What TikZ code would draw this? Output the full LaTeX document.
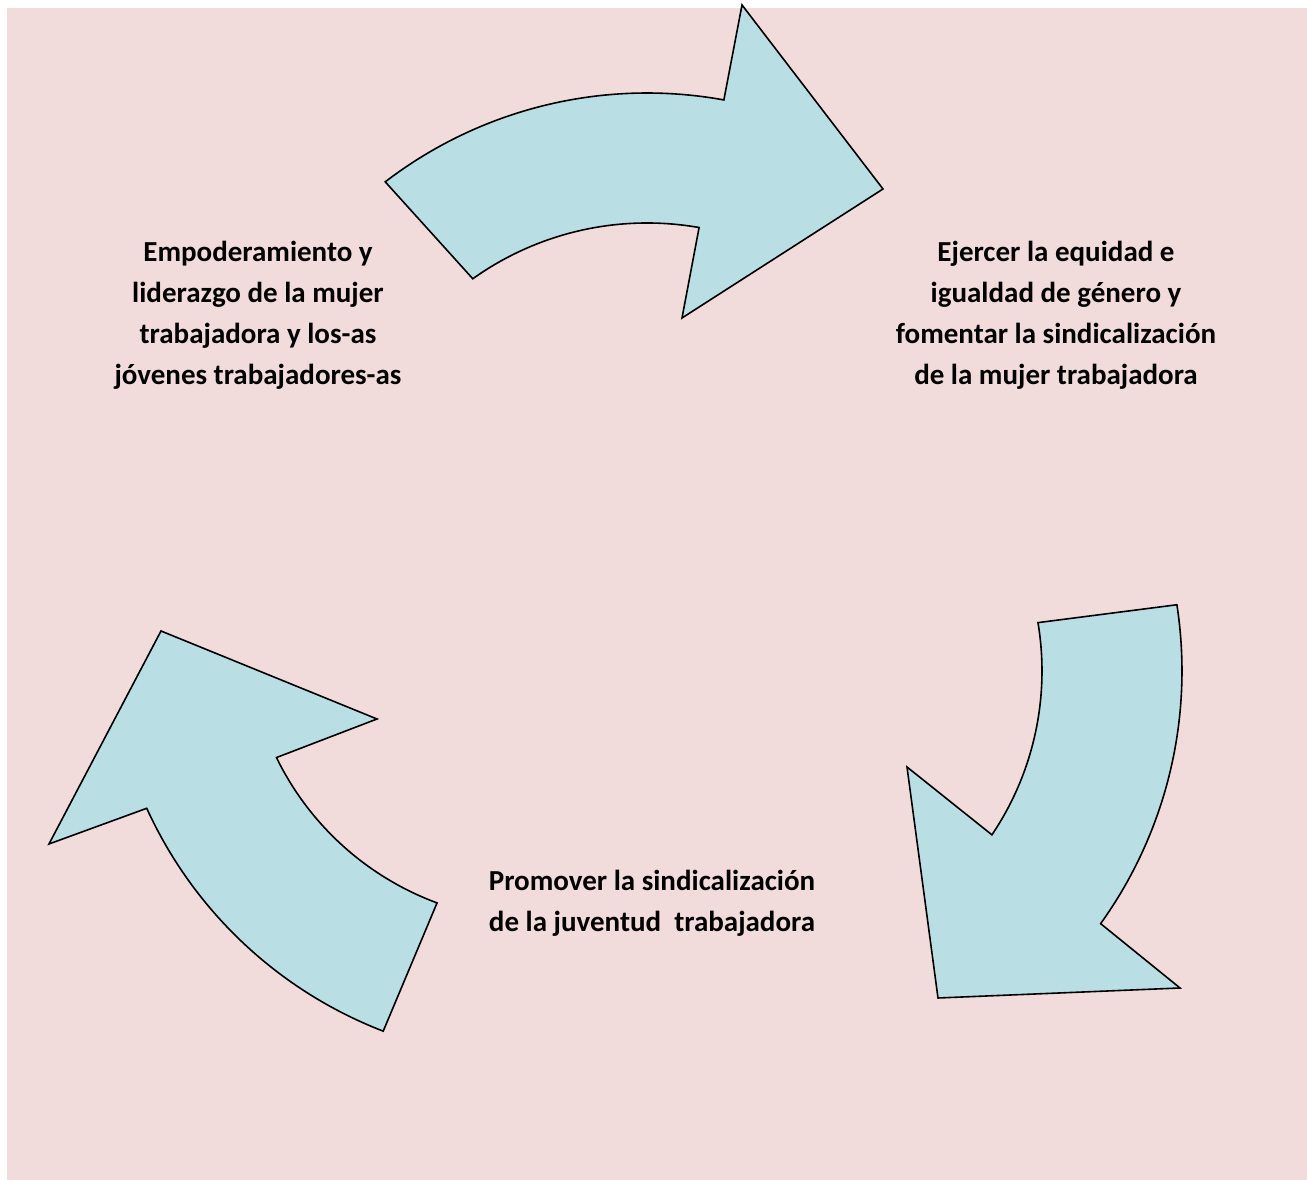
\documentclass[tikz,border=0pt]{standalone}
\usepackage{fontspec}
\setmainfont{Carlito}
\usetikzlibrary{calc}
\definecolor{bgpink}{HTML}{F2DCDB}
\definecolor{arrowfill}{HTML}{B9DFE4}
\begin{document}
\begin{tikzpicture}[x=1pt,y=1pt,
  bigarrow/.style={draw=black,line width=1.6pt,fill=arrowfill,line join=miter},
  label/.style={align=center,font=\fontsize{29}{41}\selectfont\bfseries,inner sep=0pt}]
\useasboundingbox (0,0) rectangle (1307,1180);
\fill[white] (0,0) rectangle (1307,1180);
\fill[bgpink] (7,0) rectangle (1307,1172);
% centres of the three curved arrows
\coordinate (c1) at (647,657);
\coordinate (c2) at (749,509);
\coordinate (c3) at (538,550);
% top arrow
\draw[bigarrow] ($(c1)+(127.5:430)$) arc[start angle=127.5,end angle=79.7,radius=430]
  -- (742,1175) -- (883,991) -- (682,862) -- ($(c1)+(80:300)$)
  arc[start angle=80,end angle=125.5,radius=300] -- cycle;
% right arrow
\draw[bigarrow] ($(c2)+(8.8:433)$) arc[start angle=8.8,end angle=-35.7,radius=433]
  -- (1180,192) -- (938,182) -- (907,413) -- ($(c2)+(-34:293)$)
  arc[start angle=-34,end angle=9.5,radius=293] -- cycle;
% left arrow
\draw[bigarrow] ($(c3)+(248.9:430)$) arc[start angle=248.9,end angle=204.5,radius=430]
  -- (49,336) -- (161,549) -- (377,461) -- ($(c3)+(206:291)$)
  arc[start angle=206,end angle=249.7,radius=291] -- cycle;
% labels
\node[label] (empo) at (258,865) {Empoderamiento y\\liderazgo de la mujer\\trabajadora y los-as\\jóvenes trabajadores-as};
\node[label] (ejer) at (1056,865) {Ejercer la equidad e\\igualdad de género y\\fomentar la sindicalización\\de la mujer trabajadora};
\node[label] (prom) at (652,277) {Promover la sindicalización\\de la juventud\ \ trabajadora};
\end{tikzpicture}
\end{document}
